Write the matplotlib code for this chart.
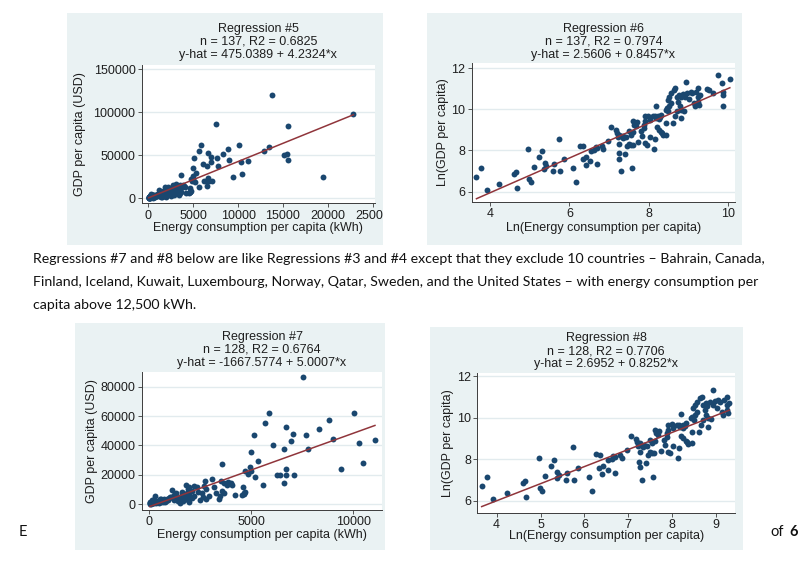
import numpy as np
import matplotlib.pyplot as plt
from matplotlib.patches import Rectangle
from matplotlib.transforms import Bbox, TransformedBbox

plt.rcParams['font.family'] = ['Liberation Sans', 'DejaVu Sans']

W, H = 809, 569
BG = '#eaf2f3'
GRID = '#e2ebee'
NAVY = '#1a476f'
MAROON = '#90353b'
AXIS = '#3c3c3c'

### regression summaries (printed above each panel)
titles = ["Regression #5", "Regression #6", "Regression #7", "Regression #8"]
n_obs = [137, 137, 128, 128]
r2_text = ["0.6825", "0.7974", "0.6764", "0.7706"]
intercepts = [475.0389, 2.5606, -1667.5774, 2.6952]
slopes = [4.2324, 0.8457, 5.0007, 0.8252]

### levels: countries below 12,500 kWh (regression #7 sample)
energy_kwh = [39, 43, 50, 69, 100, 105, 108, 144, 147, 154,
              164, 189, 202, 217, 226, 215, 273, 268, 314, 320,
              351, 446, 478, 523, 572, 567, 620, 608, 692, 685,
              720, 760, 820, 870, 950, 1000, 1040,
              1140, 1320, 1400, 1080, 1240, 1440, 1310, 1550, 1760, 1830,
              1980, 1930, 1630, 1730, 1980, 2330, 2220, 2090, 2420, 2670,
              2790, 2580, 2940, 2660, 2810, 2740, 1200, 1700, 1900, 2100,
              2500, 1600, 1850, 2200, 1390, 1420, 1500, 1640, 1940,
              3590, 3510, 3690, 3880, 4000, 3800, 4050, 3560, 3690, 3490,
              3430, 4210, 4570, 4670, 3070, 4620, 4700, 4640, 4990, 4930,
              4700, 4830, 5010, 3200, 3300,
              7520, 5860, 5680, 5120, 6700, 7030, 6940, 6590, 7690, 8340,
              8830, 9010, 10050, 10280, 11060, 7800, 6070, 5335, 9400, 10480,
              6700, 6720, 6250, 6430, 7080, 6590, 5600, 5190]
gdp_usd = [820, 1250, 430, 580, 950, 1030, 490, 3170, 735, 645,
           1310, 2160, 2920, 1640, 1390, 1220, 1540, 1090, 5320, 1100,
           1940, 1250, 645, 3790, 3680, 1940, 2160, 1450, 2890, 1750,
           3300, 1300, 2400, 3500, 3000, 4100, 4700,
           9750, 7450, 5210, 5210, 6580, 4080, 3400, 4530, 5210, 13100,
           11550, 10200, 8600, 7000, 6350, 11550, 5440, 9300, 8200, 12450,
           10200, 7400, 5650, 4760, 3800, 16050, 3000, 3300, 2900, 4300,
           2700, 6000, 8000, 12700, 2600, 2000, 1100, 2500, 1300,
           27400, 16050, 14700, 15200, 14300, 13100, 13100, 9250, 7900, 5650,
           3800, 6600, 6600, 7500, 17000, 11600, 8400, 7000, 35600, 25600,
           22600, 20600, 22600, 12000, 8000,
           86800, 62300, 55500, 46900, 52600, 48000, 42800, 37600, 47100, 51400,
           57300, 44600, 62300, 41700, 43700, 37800, 40100, 29600, 24200, 27900,
           24000, 20100, 19700, 19900, 20100, 14300, 12900, 18800]

### levels: the 10 high-energy countries (only in regression #5)
energy_kwh_high = [12900, 13400, 13800, 15600, 15100, 15500, 15550, 19450, 22850]
gdp_usd_high = [55400, 60000, 120000, 84400, 50300, 51500, 44500, 25100, 97700]

### logs: regression #8 sample
ln_energy = [3.66, 3.77, 3.92, 4.23, 4.61, 4.65, 4.68, 4.97, 4.99, 5.04,
             5.10, 5.24, 5.31, 5.38, 5.42, 5.37, 5.61, 5.59, 5.75, 5.77,
             5.86, 6.10, 6.17, 6.26, 6.35, 6.34, 6.43, 6.41, 6.54, 6.53,
             6.66, 6.69, 6.69, 6.81, 6.85, 6.96, 7.06, 7.17, 7.20, 7.26,
             7.23, 7.30, 7.34, 7.26, 7.24, 7.26, 7.31, 7.40, 7.44, 7.49,
             7.55, 7.59, 7.42, 7.49, 7.55, 7.61, 7.61, 7.63, 7.67, 7.57,
             7.74, 7.81, 7.87, 7.84, 7.87, 7.91, 7.91, 7.99, 8.02, 7.91,
             7.95, 8.02, 8.15, 8.14, 8.10, 8.15, 8.24, 8.25, 8.17, 8.19,
             8.20, 8.25, 8.31, 8.36, 8.44, 8.34, 8.31, 8.42, 8.46, 8.49,
             8.52, 8.56, 8.48, 8.52, 8.44, 8.62, 8.65, 8.71, 8.78, 8.74,
             8.82, 8.81, 8.56, 8.63, 8.67, 8.71, 8.77, 8.80, 8.86, 8.92,
             8.97, 8.93, 9.05, 9.09, 9.18, 9.24, 9.02, 9.13, 9.16, 9.24,
             9.26, 9.30, 9.25, 6.62, 7.36, 7.70, 8.28, 8.88]
ln_gdp = [6.71, 7.13, 6.07, 6.36, 6.86, 6.94, 6.19, 8.06, 6.60, 6.47,
          7.18, 7.68, 7.98, 7.40, 7.24, 7.11, 7.34, 6.99, 8.58, 7.00,
          7.57, 7.13, 6.47, 8.24, 8.21, 7.57, 7.68, 7.28, 7.97, 7.47,
          8.17, 8.11, 7.32, 8.21, 8.05, 8.46, 9.14, 8.98, 8.85, 8.77,
          8.64, 8.69, 8.61, 8.34, 7.86, 7.61, 7.00, 7.81, 8.21, 8.34,
          8.29, 8.29, 8.64, 8.93, 8.77, 8.88, 9.42, 9.26, 9.17, 7.16,
          8.42, 8.93, 9.09, 8.69, 9.26, 9.66, 9.42, 9.69, 9.50, 8.37,
          8.29, 8.64, 8.56, 8.05, 9.66, 9.66, 9.66, 9.53, 9.56, 10.17,
          9.14, 9.01, 8.88, 8.74, 8.77, 8.85, 9.74, 9.98, 10.06, 9.90,
          10.14, 10.30, 10.46, 10.62, 9.33, 9.33, 9.66, 9.90, 10.14, 10.38,
          9.98, 9.58, 10.78, 10.95, 11.02, 10.62, 10.71, 10.59, 10.75, 10.62,
          10.82, 11.35, 10.86, 10.78, 10.86, 11.02, 10.49, 10.30, 10.14, 10.38,
          10.22, 10.71, 10.62, 8.02, 8.71, 9.38, 9.62, 9.94]

### logs: the high-energy countries (only in regression #6)
ln_energy_high = [9.46, 9.52, 9.75, 9.84, 9.86, 9.88, 9.86, 10.04, 9.62]
ln_gdp_high = [10.98, 10.92, 11.67, 11.30, 10.85, 10.70, 10.14, 11.48, 10.80]

xlabels = ["Energy consumption per capita (kWh)", "Ln(Energy consumption per capita)"]
ylabels = ["GDP per capita (USD)", "Ln(GDP per capita)"]

fig = plt.figure(figsize=(W / 100, H / 100), dpi=100)


def fx(px):
    return px / W


def fy(py):
    return 1 - py / H


### grey-blue graph regions behind each chart
panel_boxes = [(67, 13, 383, 245), (427, 13, 742, 245), (75, 323, 385, 550), (430, 327, 743, 550)]
for l, t, r, b in panel_boxes:
    fig.add_artist(Rectangle((fx(l), fy(b)), (r - l) / W, (b - t) / H, transform=fig.transFigure,
                             facecolor=BG, edgecolor='none', zorder=-5))


def draw_panel(i, x, y, plot_box, xlim, ylim, xticks, yticks, xlabel, ylabel,
               title_ys, xlabel_y, ylabel_x):
    l, t, r, b = plot_box
    ax = fig.add_axes([fx(l), fy(b), (r - l) / W, (b - t) / H])
    ax.scatter(x, y, s=18, color=NAVY, linewidths=0, zorder=3)
    xs = np.array([min(x), max(x)])
    ax.plot(xs, intercepts[i] + slopes[i] * xs, color=MAROON, lw=1.1, zorder=4)
    ax.set_xlim(xlim)
    ax.set_ylim(ylim)
    ax.set_xticks(xticks)
    ax.set_xticklabels([str(v) for v in xticks])
    ax.set_yticks(yticks)
    ax.set_yticklabels([str(v) for v in yticks])
    ax.tick_params(length=3, width=0.6, pad=1.5, labelsize=9, color=AXIS, labelcolor='#1e1e1e')
    for s in ['top', 'right']:
        ax.spines[s].set_visible(False)
    for s in ['left', 'bottom']:
        ax.spines[s].set_color(AXIS)
        ax.spines[s].set_linewidth(0.7)
    ax.set_axisbelow(True)
    ax.yaxis.grid(True, color=GRID, lw=1.0)

    cx = fx((l + r) / 2)
    lines = [titles[i],
             f"n = {n_obs[i]}, R2 = {r2_text[i]}",
             f"y-hat = {intercepts[i]:.4f} + {slopes[i]:.4f}*x"]
    for txt, ty in zip(lines, title_ys):
        fig.text(cx, fy(ty), txt, ha='center', va='center', fontsize=9, color='#1e1e1e')
    fig.text(cx, fy(xlabel_y), xlabel, ha='center', va='center', fontsize=9, color='#1e1e1e')
    fig.text(fx(ylabel_x), fy((t + b) / 2), ylabel, ha='center', va='center',
             rotation=90, fontsize=9, color='#1e1e1e')
    return ax


### Regression #5 : levels, all countries
x5 = energy_kwh + energy_kwh_high
y5 = gdp_usd + gdp_usd_high
ax5 = draw_panel(0, x5, y5, (141.7, 65, 375, 203.3), (-740, 25250), (-5800, 155000),
                 [0, 5000, 10000, 15000, 20000, 25000], [0, 50000, 100000, 150000],
                 xlabels[0], ylabels[0], (29, 42, 55), 228, 80)
# the screenshot cuts the last tick label at the panel edge
clip = TransformedBbox(Bbox.from_extents(0, 0, fx(383), 1), fig.transFigure)
for tk in ax5.xaxis.get_major_ticks():
    tk.label1.set_clip_box(clip)
    tk.label1.set_clip_on(True)

### Regression #6 : logs, all countries
draw_panel(1, ln_energy + ln_energy_high, ln_gdp + ln_gdp_high, (471.7, 63.3, 735, 201.7),
           (3.54, 10.17), (5.51, 12.24), [4, 6, 8, 10], [6, 8, 10, 12],
           xlabels[1], ylabels[1], (29, 42, 55), 228, 443)

### Regression #7 : levels, without the 10 countries
draw_panel(2, energy_kwh, gdp_usd, (142, 372, 382, 510), (-343, 11405), (-3880, 90000),
           [0, 5000, 10000], [0, 20000, 40000, 60000, 80000],
           xlabels[0], ylabels[0], (337, 350, 363), 535, 92)

### Regression #8 : logs, without the 10 countries
draw_panel(3, ln_energy, ln_gdp, (477.3, 373.3, 735, 512.7), (3.56, 9.43), (5.42, 12.15),
           [4, 5, 6, 7, 8, 9], [6, 8, 10, 12],
           xlabels[1], ylabels[1], (338, 351, 364), 536, 448)

### document text between the charts
para_lines = ["Regressions #7 and #8 below are like Regressions #3 and #4 except that they exclude 10 countries \u2013 Bahrain, Canada,",
              "Finland, Iceland, Kuwait, Luxembourg, Norway, Qatar, Sweden, and the United States \u2013 with energy consumption per",
              "capita above 12,500 kWh."]
para_y = [259, 282, 305]
para = [fig.text(fx(33), fy(yy), line, ha='left', va='center', fontsize=10, family=['Lato', 'DejaVu Sans'],
                 color='#111111') for line, yy in zip(para_lines, para_y)]
fig.canvas.draw()
scale = 733 / para[0].get_window_extent().width
for p in para:
    p.set_fontsize(10 * scale)

### page footer peeking out under the charts
fig.text(fx(19), fy(532), "E", ha='left', va='center', fontsize=10.5, family=['Lato', 'DejaVu Sans'], color='#111111')
fig.text(fx(770), fy(532), "of", ha='left', va='center', fontsize=10.5, family=['Lato', 'DejaVu Sans'], color='#111111')
fig.text(fx(789), fy(532), "6", ha='left', va='center', fontsize=10.5, fontweight='bold',
         family=['Lato', 'DejaVu Sans'], color='#111111')

fig.savefig('out.png', dpi=100)
